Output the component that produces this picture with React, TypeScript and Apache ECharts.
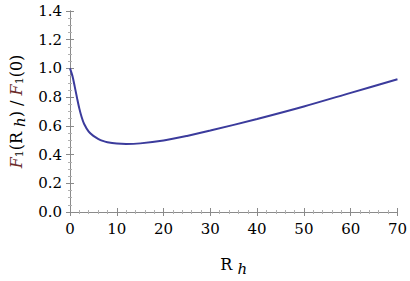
import React, { useEffect, useRef } from "react";
import * as echarts from "echarts";

const rh = [0, 0.5, 1, 1.5, 2, 2.5, 3, 4, 5, 6, 7, 8, 10, 12, 15, 20, 25, 30, 40, 50, 60, 70];
const ratio = [1.0, 0.95, 0.875, 0.795, 0.72, 0.66, 0.615, 0.56, 0.53, 0.51, 0.495, 0.486, 0.477, 0.474, 0.478, 0.498, 0.53, 0.567, 0.648, 0.735, 0.83, 0.925];

const FONT = "DejaVu Serif";

export default function App() {
  const ref = useRef<HTMLDivElement>(null);
  useEffect(() => {
    const chart = echarts.init(ref.current!, null, { renderer: "svg" });
    const axisLine = { show: true, lineStyle: { color: "#8a8a8a", width: 1 } };
    const tick = { show: true, inside: true, length: 4, lineStyle: { color: "#8a8a8a" } };
    const minor = { show: true, length: 2, lineStyle: { color: "#b0b0b0" } };
    chart.setOption({
      animation: false,
      backgroundColor: "#ffffff",
      grid: { left: 63, right: 11, top: 11, bottom: 61 },
      xAxis: [
        {
          type: "value",
          min: 0,
          max: 70,
          interval: 10,
          axisLine,
          axisTick: tick,
          minorTick: { ...minor, splitNumber: 5 },
          splitLine: { show: false },
          axisLabel: { color: "#000", fontFamily: FONT, fontSize: 15, margin: 9 },
          name: "R {h|h}",
          nameLocation: "middle",
          nameGap: 41,
          nameTextStyle: {
            color: "#000",
            fontFamily: FONT,
            fontSize: 16,
            rich: { h: { fontFamily: FONT, fontSize: 15, fontStyle: "italic", padding: [8, 0, 0, 0] } },
          },
        },
        {
          type: "value",
          position: "top",
          min: 0,
          max: 70,
          interval: 10,
          axisLine,
          axisTick: tick,
          minorTick: { ...minor, splitNumber: 5 },
          splitLine: { show: false },
          axisLabel: { show: false },
        },
      ],
      yAxis: [
        {
          type: "value",
          min: 0,
          max: 1.4,
          interval: 0.2,
          axisLine,
          axisTick: tick,
          minorTick: { ...minor, splitNumber: 4 },
          splitLine: { show: false },
          axisLabel: {
            color: "#000",
            fontFamily: FONT,
            fontSize: 15,
            margin: 8,
            formatter: (v: number) => v.toFixed(1),
          },
          name: "{f|F}{s|1}(R {h|h}) / {f|F}{s|1}(0)",
          nameLocation: "middle",
          nameRotate: 90,
          nameGap: 43,
          nameTextStyle: {
            color: "#000",
            fontFamily: FONT,
            fontSize: 16,
            rich: {
              f: { fontFamily: FONT, fontSize: 16, fontStyle: "italic", color: "#6b2b2b" },
              s: { fontFamily: FONT, fontSize: 11, padding: [7, 0, 0, 0] },
              h: { fontFamily: FONT, fontSize: 15, fontStyle: "italic", padding: [7, 0, 0, 0] },
            },
          },
        },
        {
          type: "value",
          position: "right",
          min: 0,
          max: 1.4,
          interval: 0.2,
          axisLine,
          axisTick: tick,
          minorTick: { ...minor, splitNumber: 4 },
          splitLine: { show: false },
          axisLabel: { show: false },
        },
      ],
      series: [
        {
          type: "line",
          data: rh.map((x, i) => [x, ratio[i]]),
          smooth: 0.3,
          showSymbol: false,
          lineStyle: { color: "#3b3b9c", width: 2 },
        },
      ],
    });
    return () => chart.dispose();
  }, []);
  return <div ref={ref} style={{ width: 410, height: 281, position: "absolute", left: 0, top: 0 }} />;
}
